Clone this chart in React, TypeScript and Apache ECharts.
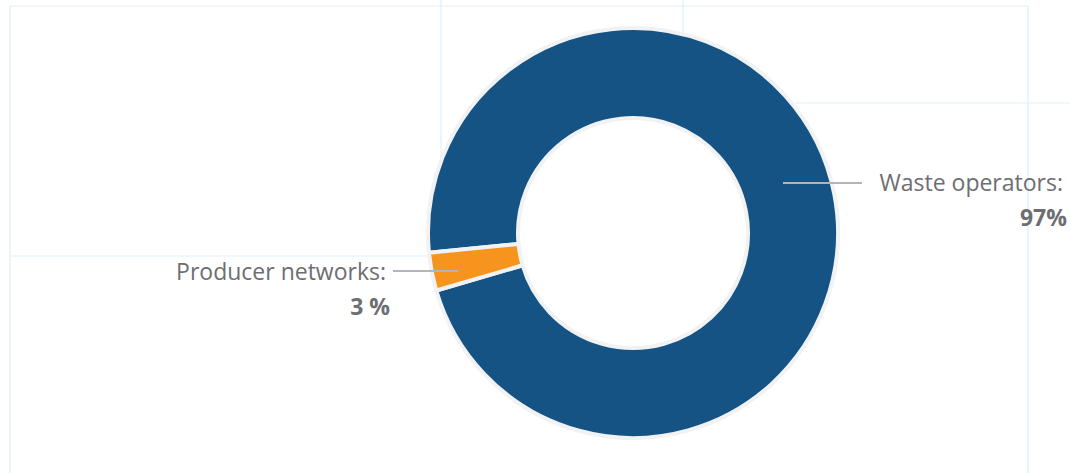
import React, { useEffect, useRef } from "react";
import * as echarts from "echarts";

const categories = ["Waste operators", "Producer networks"];
const values = [97, 3];
const valueLabels = ["97%", "3 %"];
const colors = ["#155385", "#f7941d"];

// faint layout guide lines in the background [x1, y1, x2, y2]
const guides = [
  [10, 6, 1028, 6],
  [10, 6, 10, 473],
  [1028, 6, 1028, 473],
  [441, 0, 441, 168],
  [683, 0, 683, 45],
  [795, 103, 1070, 103],
  [10, 256, 432, 256],
];

export default function App() {
  const ref = useRef<HTMLDivElement>(null);
  useEffect(() => {
    document.body.style.margin = "0";
    const chart = echarts.init(ref.current as HTMLDivElement, null, { renderer: "svg" });
    const cx = 633;
    const cy = 233;
    const labelAnchors = [
      { x: 1067, y: 164, line: [[783, 183], [822, 183], [862, 183]] },
      { x: 390, y: 253, line: [[458, 271], [425, 271], [393, 271]] },
    ];
    const common: any = {
      type: "pie",
      center: [cx, cy],
      radius: [115, 205],
      startAngle: 185.5,
      clockwise: true,
      avoidLabelOverlap: false,
      emphasis: { disabled: true },
    };
    const option: any = {
      animation: false,
      backgroundColor: "#ffffff",
      graphic: guides.map((g) => ({
        type: "line",
        z: -10,
        silent: true,
        shape: { x1: g[0], y1: g[1], x2: g[2], y2: g[3] },
        style: { stroke: "#dcf0fa", lineWidth: 1.2 },
      })),
      series: [
        {
          ...common,
          z: 2,
          itemStyle: { borderColor: "#f1f2f4", borderWidth: 4 },
          label: { show: false },
          labelLine: { show: false },
          data: categories.map((c, i) => ({
            name: c,
            value: values[i],
            itemStyle: { color: colors[i] },
          })),
        },
        {
          ...common,
          z: 5,
          silent: true,
          itemStyle: { color: "rgba(0,0,0,0)", borderWidth: 0 },
          label: {
            show: true,
            position: "outside",
            color: "#6d6e71",
            fontFamily: "Open Sans",
            align: "right",
            rich: {
              a: {
                fontSize: 23,
                fontFamily: "Open Sans",
                color: "#6d6e71",
                lineHeight: 35,
                align: "right",
                padding: [0, 4, 0, 0],
              },
              b: {
                fontSize: 23,
                fontWeight: "bold",
                fontFamily: "Open Sans",
                color: "#6d6e71",
                lineHeight: 35,
                align: "right",
              },
            },
            formatter: (p: any) => `{a|${p.name}:}\n{b|${valueLabels[p.dataIndex]}}`,
          },
          labelLine: {
            show: true,
            lineStyle: { color: "#b3b5b8", width: 2 },
          },
          labelLayout: (p: any) => {
            const a = labelAnchors[p.dataIndex];
            return {
              x: a.x,
              y: a.y,
              align: "right",
              verticalAlign: "top",
              labelLinePoints: a.line,
            };
          },
          data: categories.map((c, i) => ({
            name: c,
            value: values[i],
          })),
        },
      ],
    };
    chart.setOption(option);
    return () => chart.dispose();
  }, []);
  return <div ref={ref} style={{ width: 1070, height: 473 }} />;
}
